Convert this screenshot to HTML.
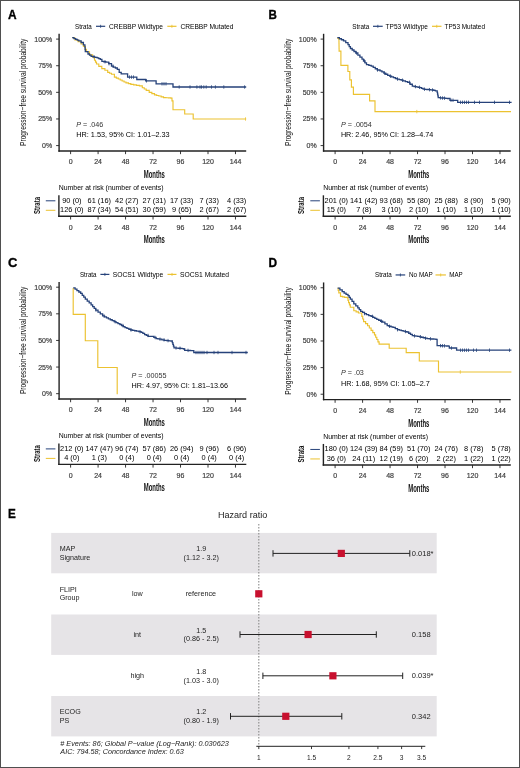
<!DOCTYPE html><html><head><meta charset="utf-8"><style>html,body{margin:0;padding:0;background:#fff;}svg{display:block;will-change:transform;}text{font-family:"Liberation Sans",sans-serif;}</style></head><body>
<svg width="520" height="768" viewBox="0 0 520 768">
<rect x="0" y="0" width="520" height="768" fill="#fff"/>
<text x="7.90" y="18.80" font-size="13.5" fill="#000" textLength="8.6" lengthAdjust="spacingAndGlyphs" font-weight="bold" stroke="#000" stroke-width="0.35">A</text>
<text x="75.00" y="28.60" font-size="6.8" textLength="16.700000000000003" lengthAdjust="spacingAndGlyphs">Strata</text>
<line x1="96.00" y1="26.30" x2="105.20" y2="26.30" stroke="#26427a" stroke-width="1.2"/>
<line x1="100.60" y1="24.80" x2="100.60" y2="27.80" stroke="#26427a" stroke-width="0.8"/>
<text x="109.00" y="28.60" font-size="6.8" textLength="54" lengthAdjust="spacingAndGlyphs">CREBBP Wildtype</text>
<line x1="167.30" y1="26.30" x2="176.50" y2="26.30" stroke="#ecc230" stroke-width="1.2"/>
<line x1="171.90" y1="24.80" x2="171.90" y2="27.80" stroke="#ecc230" stroke-width="0.8"/>
<text x="180.40" y="28.60" font-size="6.8" textLength="53.1" lengthAdjust="spacingAndGlyphs">CREBBP Mutated</text>
<line x1="59.10" y1="33.80" x2="59.10" y2="151.65" stroke="#222" stroke-width="1.4"/>
<line x1="58.40" y1="150.95" x2="246.20" y2="150.95" stroke="#222" stroke-width="1.4"/>
<line x1="56.10" y1="39.10" x2="59.10" y2="39.10" stroke="#222" stroke-width="0.9"/>
<text x="52.20" y="41.60" font-size="7" text-anchor="end" fill="#3d3d3d" stroke="#3d3d3d" stroke-width="0.18">100%</text>
<line x1="56.10" y1="65.72" x2="59.10" y2="65.72" stroke="#222" stroke-width="0.9"/>
<text x="52.20" y="68.22" font-size="7" text-anchor="end" fill="#3d3d3d" stroke="#3d3d3d" stroke-width="0.18">75%</text>
<line x1="56.10" y1="92.34" x2="59.10" y2="92.34" stroke="#222" stroke-width="0.9"/>
<text x="52.20" y="94.84" font-size="7" text-anchor="end" fill="#3d3d3d" stroke="#3d3d3d" stroke-width="0.18">50%</text>
<line x1="56.10" y1="118.96" x2="59.10" y2="118.96" stroke="#222" stroke-width="0.9"/>
<text x="52.20" y="121.46" font-size="7" text-anchor="end" fill="#3d3d3d" stroke="#3d3d3d" stroke-width="0.18">25%</text>
<line x1="56.10" y1="145.58" x2="59.10" y2="145.58" stroke="#222" stroke-width="0.9"/>
<text x="52.20" y="148.08" font-size="7" text-anchor="end" fill="#3d3d3d" stroke="#3d3d3d" stroke-width="0.18">0%</text>
<line x1="70.60" y1="150.95" x2="70.60" y2="154.15" stroke="#222" stroke-width="0.9"/>
<text x="70.60" y="164.20" font-size="7" text-anchor="middle" fill="#3d3d3d" stroke="#3d3d3d" stroke-width="0.18">0</text>
<line x1="98.08" y1="150.95" x2="98.08" y2="154.15" stroke="#222" stroke-width="0.9"/>
<text x="98.08" y="164.20" font-size="7" text-anchor="middle" fill="#3d3d3d" stroke="#3d3d3d" stroke-width="0.18">24</text>
<line x1="125.56" y1="150.95" x2="125.56" y2="154.15" stroke="#222" stroke-width="0.9"/>
<text x="125.56" y="164.20" font-size="7" text-anchor="middle" fill="#3d3d3d" stroke="#3d3d3d" stroke-width="0.18">48</text>
<line x1="153.04" y1="150.95" x2="153.04" y2="154.15" stroke="#222" stroke-width="0.9"/>
<text x="153.04" y="164.20" font-size="7" text-anchor="middle" fill="#3d3d3d" stroke="#3d3d3d" stroke-width="0.18">72</text>
<line x1="180.52" y1="150.95" x2="180.52" y2="154.15" stroke="#222" stroke-width="0.9"/>
<text x="180.52" y="164.20" font-size="7" text-anchor="middle" fill="#3d3d3d" stroke="#3d3d3d" stroke-width="0.18">96</text>
<line x1="208.00" y1="150.95" x2="208.00" y2="154.15" stroke="#222" stroke-width="0.9"/>
<text x="208.00" y="164.20" font-size="7" text-anchor="middle" fill="#3d3d3d" stroke="#3d3d3d" stroke-width="0.18">120</text>
<line x1="235.48" y1="150.95" x2="235.48" y2="154.15" stroke="#222" stroke-width="0.9"/>
<text x="235.48" y="164.20" font-size="7" text-anchor="middle" fill="#3d3d3d" stroke="#3d3d3d" stroke-width="0.18">144</text>
<text x="154.30" y="178.20" font-size="10.3" text-anchor="middle" fill="#111" textLength="21.2" lengthAdjust="spacingAndGlyphs" font-weight="bold">Months</text>
<text x="0" y="0" font-size="9.2" text-anchor="middle" fill="#111" textLength="107.4" lengthAdjust="spacingAndGlyphs" transform="translate(26.40,92.30) rotate(-90)">Progression−free survival probability</text>
<g fill="none" stroke-linejoin="miter">
<path d="M72.20,37.70L74.90,37.70L74.90,39.80L78.00,39.80L78.00,41.70L81.10,41.70L81.10,44.00L83.40,44.00L83.40,46.30L85.30,46.30L85.30,49.40L86.50,49.40L86.50,51.70L89.50,51.70L89.50,54.80L92.60,54.80L92.60,57.10L94.50,57.10L94.50,60.20L95.50,60.20L95.50,62.10L96.50,62.10L96.50,64.00L98.80,64.00L98.80,66.30L101.80,66.30L101.80,68.60L104.90,68.60L104.90,70.20L107.70,70.20L107.70,72.30L109.60,72.30L109.60,73.25L111.50,73.25L111.50,74.20L114.40,74.20L114.40,77.10L116.35,77.10L116.35,78.05L118.30,78.05L118.30,79.00L120.20,79.00L120.20,80.00L122.10,80.00L122.10,81.00L124.05,81.00L124.05,81.95L126.00,81.95L126.00,82.90L128.40,82.90L128.40,83.60L130.80,83.60L130.80,84.30L133.65,84.30L133.65,84.80L136.50,84.80L136.50,85.30L139.40,85.30L139.40,85.80L142.30,85.80L142.30,87.70L144.25,87.70L144.25,89.00L146.20,89.00L146.20,90.30L149.20,90.30L149.20,92.30L151.85,92.30L151.85,93.60L154.50,93.60L154.50,94.90L156.65,94.90L156.65,95.45L158.80,95.45L158.80,96.00L161.15,96.00L161.15,96.80L163.50,96.80L163.50,97.60L165.97,97.60L165.97,97.77L168.43,97.77L168.43,97.93L170.90,97.93L170.90,98.10L172.00,98.10L172.00,100.80L173.00,100.80L173.00,103.40L173.00,103.40L173.00,109.70L184.70,109.70L184.70,109.70L184.70,109.70L184.70,114.00L193.20,114.00L193.20,114.00L193.20,114.00L193.20,119.00L246.20,119.00L246.20,119.00" stroke="#ecc230" stroke-width="1.15"/>
<path d="M72.20,37.70L73.95,37.70L73.95,38.55L75.70,38.55L75.70,39.40L77.25,39.40L77.25,40.15L78.80,40.15L78.80,40.90L81.10,40.90L81.10,42.50L83.40,42.50L83.40,44.80L84.90,44.80L84.90,47.10L85.10,47.10L85.10,49.40L85.30,49.40L85.30,51.70L88.00,51.70L88.00,54.00L89.55,54.00L89.55,55.15L91.10,55.15L91.10,56.30L92.65,56.30L92.65,56.70L94.20,56.70L94.20,57.10L95.70,57.10L95.70,57.45L97.20,57.45L97.20,57.80L98.75,57.80L98.75,58.60L100.30,58.60L100.30,59.40L101.90,59.40L101.90,61.30L103.85,61.30L103.85,61.75L105.80,61.75L105.80,62.20L108.70,62.20L108.70,63.70L111.50,63.70L111.50,66.10L113.45,66.10L113.45,67.05L115.40,67.05L115.40,68.00L117.30,68.00L117.30,69.40L119.20,69.40L119.20,72.30L121.20,72.30L121.20,73.80L127.60,73.80L127.60,73.80L127.60,73.80L127.60,77.10L136.80,77.10L136.80,77.10L136.80,77.10L136.80,79.50L145.70,79.50L145.70,79.50L145.70,79.50L145.70,80.80L156.10,80.80L156.10,80.80L156.10,80.80L156.10,83.80L173.00,83.80L173.00,83.80L173.00,83.80L173.00,87.00L246.20,87.00L246.20,87.00" stroke="#26427a" stroke-width="1.3"/>
</g>
<line x1="94.00" y1="55.00" x2="94.00" y2="58.40" stroke="#26427a" stroke-width="0.8"/>
<line x1="105.00" y1="60.05" x2="105.00" y2="63.45" stroke="#26427a" stroke-width="0.8"/>
<line x1="109.00" y1="62.00" x2="109.00" y2="65.40" stroke="#26427a" stroke-width="0.8"/>
<line x1="113.00" y1="64.40" x2="113.00" y2="67.80" stroke="#26427a" stroke-width="0.8"/>
<line x1="129.50" y1="75.40" x2="129.50" y2="78.80" stroke="#26427a" stroke-width="0.8"/>
<line x1="131.50" y1="75.40" x2="131.50" y2="78.80" stroke="#26427a" stroke-width="0.8"/>
<line x1="133.50" y1="75.40" x2="133.50" y2="78.80" stroke="#26427a" stroke-width="0.8"/>
<line x1="146.50" y1="79.10" x2="146.50" y2="82.50" stroke="#26427a" stroke-width="0.8"/>
<line x1="162.00" y1="82.10" x2="162.00" y2="85.50" stroke="#26427a" stroke-width="0.8"/>
<line x1="164.00" y1="82.10" x2="164.00" y2="85.50" stroke="#26427a" stroke-width="0.8"/>
<line x1="166.00" y1="82.10" x2="166.00" y2="85.50" stroke="#26427a" stroke-width="0.8"/>
<line x1="179.20" y1="85.30" x2="179.20" y2="88.70" stroke="#26427a" stroke-width="0.8"/>
<line x1="190.00" y1="85.30" x2="190.00" y2="88.70" stroke="#26427a" stroke-width="0.8"/>
<line x1="196.90" y1="85.30" x2="196.90" y2="88.70" stroke="#26427a" stroke-width="0.8"/>
<line x1="200.00" y1="85.30" x2="200.00" y2="88.70" stroke="#26427a" stroke-width="0.8"/>
<line x1="201.50" y1="85.30" x2="201.50" y2="88.70" stroke="#26427a" stroke-width="0.8"/>
<line x1="203.80" y1="85.30" x2="203.80" y2="88.70" stroke="#26427a" stroke-width="0.8"/>
<line x1="206.20" y1="85.30" x2="206.20" y2="88.70" stroke="#26427a" stroke-width="0.8"/>
<line x1="211.50" y1="85.30" x2="211.50" y2="88.70" stroke="#26427a" stroke-width="0.8"/>
<line x1="215.40" y1="85.30" x2="215.40" y2="88.70" stroke="#26427a" stroke-width="0.8"/>
<line x1="223.80" y1="85.30" x2="223.80" y2="88.70" stroke="#26427a" stroke-width="0.8"/>
<line x1="244.60" y1="85.30" x2="244.60" y2="88.70" stroke="#26427a" stroke-width="0.8"/>
<line x1="245.50" y1="117.30" x2="245.50" y2="120.70" stroke="#ecc230" stroke-width="0.8"/>
<text x="76.20" y="127.00" font-size="7.2" fill="#333"><tspan font-style="italic">P</tspan> = .046</text>
<text x="76.20" y="136.70" font-size="7.2" textLength="93.5" lengthAdjust="spacingAndGlyphs">HR: 1.53, 95% CI: 1.01–2.33</text>
<text x="58.80" y="190.00" font-size="7" textLength="104.7" lengthAdjust="spacingAndGlyphs">Number at risk (number of events)</text>
<line x1="58.90" y1="195.30" x2="58.90" y2="217.00" stroke="#222" stroke-width="1.4"/>
<line x1="58.20" y1="216.30" x2="246.30" y2="216.30" stroke="#222" stroke-width="1.4"/>
<line x1="70.60" y1="216.30" x2="70.60" y2="219.50" stroke="#222" stroke-width="0.9"/>
<text x="70.60" y="229.70" font-size="7" text-anchor="middle" fill="#3d3d3d" stroke="#3d3d3d" stroke-width="0.18">0</text>
<text x="71.80" y="202.70" font-size="7.4" text-anchor="middle">90 (0)</text>
<text x="71.80" y="212.30" font-size="7.4" text-anchor="middle">126 (0)</text>
<line x1="98.08" y1="216.30" x2="98.08" y2="219.50" stroke="#222" stroke-width="0.9"/>
<text x="98.08" y="229.70" font-size="7" text-anchor="middle" fill="#3d3d3d" stroke="#3d3d3d" stroke-width="0.18">24</text>
<text x="99.28" y="202.70" font-size="7.4" text-anchor="middle">61 (16)</text>
<text x="99.28" y="212.30" font-size="7.4" text-anchor="middle">87 (34)</text>
<line x1="125.56" y1="216.30" x2="125.56" y2="219.50" stroke="#222" stroke-width="0.9"/>
<text x="125.56" y="229.70" font-size="7" text-anchor="middle" fill="#3d3d3d" stroke="#3d3d3d" stroke-width="0.18">48</text>
<text x="126.76" y="202.70" font-size="7.4" text-anchor="middle">42 (27)</text>
<text x="126.76" y="212.30" font-size="7.4" text-anchor="middle">54 (51)</text>
<line x1="153.04" y1="216.30" x2="153.04" y2="219.50" stroke="#222" stroke-width="0.9"/>
<text x="153.04" y="229.70" font-size="7" text-anchor="middle" fill="#3d3d3d" stroke="#3d3d3d" stroke-width="0.18">72</text>
<text x="154.24" y="202.70" font-size="7.4" text-anchor="middle">27 (31)</text>
<text x="154.24" y="212.30" font-size="7.4" text-anchor="middle">30 (59)</text>
<line x1="180.52" y1="216.30" x2="180.52" y2="219.50" stroke="#222" stroke-width="0.9"/>
<text x="180.52" y="229.70" font-size="7" text-anchor="middle" fill="#3d3d3d" stroke="#3d3d3d" stroke-width="0.18">96</text>
<text x="181.72" y="202.70" font-size="7.4" text-anchor="middle">17 (33)</text>
<text x="181.72" y="212.30" font-size="7.4" text-anchor="middle">9 (65)</text>
<line x1="208.00" y1="216.30" x2="208.00" y2="219.50" stroke="#222" stroke-width="0.9"/>
<text x="208.00" y="229.70" font-size="7" text-anchor="middle" fill="#3d3d3d" stroke="#3d3d3d" stroke-width="0.18">120</text>
<text x="209.20" y="202.70" font-size="7.4" text-anchor="middle">7 (33)</text>
<text x="209.20" y="212.30" font-size="7.4" text-anchor="middle">2 (67)</text>
<line x1="235.48" y1="216.30" x2="235.48" y2="219.50" stroke="#222" stroke-width="0.9"/>
<text x="235.48" y="229.70" font-size="7" text-anchor="middle" fill="#3d3d3d" stroke="#3d3d3d" stroke-width="0.18">144</text>
<text x="236.68" y="202.70" font-size="7.4" text-anchor="middle">4 (33)</text>
<text x="236.68" y="212.30" font-size="7.4" text-anchor="middle">2 (67)</text>
<text x="154.30" y="243.10" font-size="10.3" text-anchor="middle" fill="#111" textLength="21.2" lengthAdjust="spacingAndGlyphs" font-weight="bold">Months</text>
<text x="0" y="0" font-size="9" font-weight="bold" text-anchor="middle" fill="#111" textLength="16.9" lengthAdjust="spacingAndGlyphs" transform="translate(39.60,205.50) rotate(-90)">Strata</text>
<line x1="45.80" y1="200.80" x2="55.40" y2="200.80" stroke="#26427a" stroke-width="1.0"/>
<line x1="45.80" y1="210.30" x2="55.40" y2="210.30" stroke="#ecc230" stroke-width="1.0"/>
<text x="268.50" y="18.80" font-size="13.5" fill="#000" textLength="8.4" lengthAdjust="spacingAndGlyphs" font-weight="bold" stroke="#000" stroke-width="0.35">B</text>
<text x="352.30" y="28.60" font-size="6.8" textLength="16.899999999999977" lengthAdjust="spacingAndGlyphs">Strata</text>
<line x1="373.00" y1="26.30" x2="382.70" y2="26.30" stroke="#26427a" stroke-width="1.2"/>
<line x1="377.85" y1="24.80" x2="377.85" y2="27.80" stroke="#26427a" stroke-width="0.8"/>
<text x="385.60" y="28.60" font-size="6.8" textLength="42.3" lengthAdjust="spacingAndGlyphs">TP53 Wildtype</text>
<line x1="432.00" y1="26.30" x2="441.50" y2="26.30" stroke="#ecc230" stroke-width="1.2"/>
<line x1="436.75" y1="24.80" x2="436.75" y2="27.80" stroke="#ecc230" stroke-width="0.8"/>
<text x="444.60" y="28.60" font-size="6.8" textLength="40.4" lengthAdjust="spacingAndGlyphs">TP53 Mutated</text>
<line x1="323.60" y1="33.80" x2="323.60" y2="151.65" stroke="#222" stroke-width="1.4"/>
<line x1="322.90" y1="150.95" x2="510.70" y2="150.95" stroke="#222" stroke-width="1.4"/>
<line x1="320.60" y1="39.10" x2="323.60" y2="39.10" stroke="#222" stroke-width="0.9"/>
<text x="316.70" y="41.60" font-size="7" text-anchor="end" fill="#3d3d3d" stroke="#3d3d3d" stroke-width="0.18">100%</text>
<line x1="320.60" y1="65.72" x2="323.60" y2="65.72" stroke="#222" stroke-width="0.9"/>
<text x="316.70" y="68.22" font-size="7" text-anchor="end" fill="#3d3d3d" stroke="#3d3d3d" stroke-width="0.18">75%</text>
<line x1="320.60" y1="92.34" x2="323.60" y2="92.34" stroke="#222" stroke-width="0.9"/>
<text x="316.70" y="94.84" font-size="7" text-anchor="end" fill="#3d3d3d" stroke="#3d3d3d" stroke-width="0.18">50%</text>
<line x1="320.60" y1="118.96" x2="323.60" y2="118.96" stroke="#222" stroke-width="0.9"/>
<text x="316.70" y="121.46" font-size="7" text-anchor="end" fill="#3d3d3d" stroke="#3d3d3d" stroke-width="0.18">25%</text>
<line x1="320.60" y1="145.58" x2="323.60" y2="145.58" stroke="#222" stroke-width="0.9"/>
<text x="316.70" y="148.08" font-size="7" text-anchor="end" fill="#3d3d3d" stroke="#3d3d3d" stroke-width="0.18">0%</text>
<line x1="335.10" y1="150.95" x2="335.10" y2="154.15" stroke="#222" stroke-width="0.9"/>
<text x="335.10" y="164.20" font-size="7" text-anchor="middle" fill="#3d3d3d" stroke="#3d3d3d" stroke-width="0.18">0</text>
<line x1="362.58" y1="150.95" x2="362.58" y2="154.15" stroke="#222" stroke-width="0.9"/>
<text x="362.58" y="164.20" font-size="7" text-anchor="middle" fill="#3d3d3d" stroke="#3d3d3d" stroke-width="0.18">24</text>
<line x1="390.06" y1="150.95" x2="390.06" y2="154.15" stroke="#222" stroke-width="0.9"/>
<text x="390.06" y="164.20" font-size="7" text-anchor="middle" fill="#3d3d3d" stroke="#3d3d3d" stroke-width="0.18">48</text>
<line x1="417.54" y1="150.95" x2="417.54" y2="154.15" stroke="#222" stroke-width="0.9"/>
<text x="417.54" y="164.20" font-size="7" text-anchor="middle" fill="#3d3d3d" stroke="#3d3d3d" stroke-width="0.18">72</text>
<line x1="445.02" y1="150.95" x2="445.02" y2="154.15" stroke="#222" stroke-width="0.9"/>
<text x="445.02" y="164.20" font-size="7" text-anchor="middle" fill="#3d3d3d" stroke="#3d3d3d" stroke-width="0.18">96</text>
<line x1="472.50" y1="150.95" x2="472.50" y2="154.15" stroke="#222" stroke-width="0.9"/>
<text x="472.50" y="164.20" font-size="7" text-anchor="middle" fill="#3d3d3d" stroke="#3d3d3d" stroke-width="0.18">120</text>
<line x1="499.98" y1="150.95" x2="499.98" y2="154.15" stroke="#222" stroke-width="0.9"/>
<text x="499.98" y="164.20" font-size="7" text-anchor="middle" fill="#3d3d3d" stroke="#3d3d3d" stroke-width="0.18">144</text>
<text x="418.80" y="178.20" font-size="10.3" text-anchor="middle" fill="#111" textLength="21.2" lengthAdjust="spacingAndGlyphs" font-weight="bold">Months</text>
<text x="0" y="0" font-size="9.2" text-anchor="middle" fill="#111" textLength="107.4" lengthAdjust="spacingAndGlyphs" transform="translate(290.90,92.30) rotate(-90)">Progression−free survival probability</text>
<g fill="none" stroke-linejoin="miter">
<path d="M337.30,38.30L338.90,38.30L338.90,38.30L338.94,38.30L338.94,40.86L338.98,40.86L338.98,43.42L339.02,43.42L339.02,45.98L339.06,45.98L339.06,48.54L339.10,48.54L339.10,51.10L340.90,51.10L340.90,51.10L340.90,51.10L340.90,65.40L347.90,65.40L347.90,65.40L347.90,65.40L347.90,71.50L349.80,71.50L349.80,71.50L349.80,71.50L349.80,79.80L351.40,79.80L351.40,79.80L351.40,79.80L351.40,87.10L353.40,87.10L353.40,87.10L353.40,87.10L353.40,94.40L369.60,94.40L369.60,94.40L369.60,94.40L369.60,100.80L375.00,100.80L375.00,100.80L375.00,100.80L375.00,111.60L511.00,111.60L511.00,111.60" stroke="#ecc230" stroke-width="1.15"/>
<path d="M337.30,37.70L339.37,37.70L339.37,38.73L341.43,38.73L341.43,39.77L343.50,39.77L343.50,40.80L345.75,40.80L345.75,42.70L348.00,42.70L348.00,44.60L349.20,44.60L349.20,46.55L350.40,46.55L350.40,48.50L352.20,48.50L352.20,50.00L354.00,50.00L354.00,51.50L355.80,51.50L355.80,53.00L357.87,53.00L357.87,55.07L359.93,55.07L359.93,57.13L362.00,57.13L362.00,59.20L363.50,59.20L363.50,61.00L365.00,61.00L365.00,62.80L366.50,62.80L366.50,64.60L368.85,64.60L368.85,65.40L371.20,65.40L371.20,66.20L373.23,66.20L373.23,67.47L375.27,67.47L375.27,68.73L377.30,68.73L377.30,70.00L380.00,70.00L380.00,70.80L381.93,70.80L381.93,71.95L383.85,71.95L383.85,73.10L385.77,73.10L385.77,74.25L387.70,74.25L387.70,75.40L389.62,75.40L389.62,76.18L391.55,76.18L391.55,76.95L393.47,76.95L393.47,77.72L395.40,77.72L395.40,78.50L397.32,78.50L397.32,79.08L399.25,79.08L399.25,79.65L401.18,79.65L401.18,80.22L403.10,80.22L403.10,80.80L405.40,80.80L405.40,81.55L407.70,81.55L407.70,82.30L410.00,82.30L410.00,84.25L412.30,84.25L412.30,86.20L414.23,86.20L414.23,86.58L416.15,86.58L416.15,86.95L418.07,86.95L418.07,87.33L420.00,87.33L420.00,87.70L421.55,87.70L421.55,88.45L423.10,88.45L423.10,89.20L424.94,89.20L424.94,89.36L426.78,89.36L426.78,89.52L428.62,89.52L428.62,89.68L430.46,89.68L430.46,89.84L432.30,89.84L432.30,90.00L433.85,90.00L433.85,90.40L435.40,90.40L435.40,90.80L437.20,90.80L437.20,92.30L437.53,92.30L437.53,94.10L437.87,94.10L437.87,95.90L438.20,95.90L438.20,97.70L440.10,97.70L440.10,97.86L442.00,97.86L442.00,98.02L443.90,98.02L443.90,98.18L445.80,98.18L445.80,98.34L447.70,98.34L447.70,98.50L450.00,98.50L450.00,100.30L455.40,100.30L455.40,100.30L457.70,100.30L457.70,102.30L511.60,102.30L511.60,102.30" stroke="#26427a" stroke-width="1.3"/>
</g>
<line x1="356.50" y1="51.30" x2="356.50" y2="54.70" stroke="#26427a" stroke-width="0.8"/>
<line x1="364.50" y1="59.30" x2="364.50" y2="62.70" stroke="#26427a" stroke-width="0.8"/>
<line x1="377.50" y1="68.30" x2="377.50" y2="71.70" stroke="#26427a" stroke-width="0.8"/>
<line x1="384.50" y1="71.40" x2="384.50" y2="74.80" stroke="#26427a" stroke-width="0.8"/>
<line x1="390.50" y1="74.48" x2="390.50" y2="77.88" stroke="#26427a" stroke-width="0.8"/>
<line x1="397.50" y1="77.38" x2="397.50" y2="80.78" stroke="#26427a" stroke-width="0.8"/>
<line x1="402.50" y1="78.52" x2="402.50" y2="81.92" stroke="#26427a" stroke-width="0.8"/>
<line x1="409.50" y1="80.60" x2="409.50" y2="84.00" stroke="#26427a" stroke-width="0.8"/>
<line x1="415.50" y1="84.88" x2="415.50" y2="88.28" stroke="#26427a" stroke-width="0.8"/>
<line x1="419.50" y1="85.62" x2="419.50" y2="89.03" stroke="#26427a" stroke-width="0.8"/>
<line x1="424.50" y1="87.50" x2="424.50" y2="90.90" stroke="#26427a" stroke-width="0.8"/>
<line x1="429.50" y1="87.98" x2="429.50" y2="91.38" stroke="#26427a" stroke-width="0.8"/>
<line x1="432.50" y1="88.30" x2="432.50" y2="91.70" stroke="#26427a" stroke-width="0.8"/>
<line x1="440.50" y1="96.16" x2="440.50" y2="99.56" stroke="#26427a" stroke-width="0.8"/>
<line x1="442.50" y1="96.32" x2="442.50" y2="99.72" stroke="#26427a" stroke-width="0.8"/>
<line x1="444.50" y1="96.48" x2="444.50" y2="99.88" stroke="#26427a" stroke-width="0.8"/>
<line x1="451.00" y1="98.60" x2="451.00" y2="102.00" stroke="#26427a" stroke-width="0.8"/>
<line x1="453.00" y1="98.60" x2="453.00" y2="102.00" stroke="#26427a" stroke-width="0.8"/>
<line x1="460.50" y1="100.60" x2="460.50" y2="104.00" stroke="#26427a" stroke-width="0.8"/>
<line x1="462.50" y1="100.60" x2="462.50" y2="104.00" stroke="#26427a" stroke-width="0.8"/>
<line x1="464.50" y1="100.60" x2="464.50" y2="104.00" stroke="#26427a" stroke-width="0.8"/>
<line x1="466.50" y1="100.60" x2="466.50" y2="104.00" stroke="#26427a" stroke-width="0.8"/>
<line x1="468.50" y1="100.60" x2="468.50" y2="104.00" stroke="#26427a" stroke-width="0.8"/>
<line x1="474.50" y1="100.60" x2="474.50" y2="104.00" stroke="#26427a" stroke-width="0.8"/>
<line x1="479.50" y1="100.60" x2="479.50" y2="104.00" stroke="#26427a" stroke-width="0.8"/>
<line x1="494.50" y1="100.60" x2="494.50" y2="104.00" stroke="#26427a" stroke-width="0.8"/>
<line x1="509.50" y1="100.60" x2="509.50" y2="104.00" stroke="#26427a" stroke-width="0.8"/>
<line x1="416.80" y1="109.90" x2="416.80" y2="113.30" stroke="#ecc230" stroke-width="0.8"/>
<text x="340.90" y="127.00" font-size="7.2" fill="#333"><tspan font-style="italic">P</tspan> = .0054</text>
<text x="340.90" y="136.70" font-size="7.2" textLength="92.3" lengthAdjust="spacingAndGlyphs">HR: 2.46, 95% CI: 1.28–4.74</text>
<text x="323.30" y="190.00" font-size="7" textLength="104.7" lengthAdjust="spacingAndGlyphs">Number at risk (number of events)</text>
<line x1="323.40" y1="195.30" x2="323.40" y2="217.00" stroke="#222" stroke-width="1.4"/>
<line x1="322.70" y1="216.30" x2="510.80" y2="216.30" stroke="#222" stroke-width="1.4"/>
<line x1="335.10" y1="216.30" x2="335.10" y2="219.50" stroke="#222" stroke-width="0.9"/>
<text x="335.10" y="229.70" font-size="7" text-anchor="middle" fill="#3d3d3d" stroke="#3d3d3d" stroke-width="0.18">0</text>
<text x="336.30" y="202.70" font-size="7.4" text-anchor="middle">201 (0)</text>
<text x="336.30" y="212.30" font-size="7.4" text-anchor="middle">15 (0)</text>
<line x1="362.58" y1="216.30" x2="362.58" y2="219.50" stroke="#222" stroke-width="0.9"/>
<text x="362.58" y="229.70" font-size="7" text-anchor="middle" fill="#3d3d3d" stroke="#3d3d3d" stroke-width="0.18">24</text>
<text x="363.78" y="202.70" font-size="7.4" text-anchor="middle">141 (42)</text>
<text x="363.78" y="212.30" font-size="7.4" text-anchor="middle">7 (8)</text>
<line x1="390.06" y1="216.30" x2="390.06" y2="219.50" stroke="#222" stroke-width="0.9"/>
<text x="390.06" y="229.70" font-size="7" text-anchor="middle" fill="#3d3d3d" stroke="#3d3d3d" stroke-width="0.18">48</text>
<text x="391.26" y="202.70" font-size="7.4" text-anchor="middle">93 (68)</text>
<text x="391.26" y="212.30" font-size="7.4" text-anchor="middle">3 (10)</text>
<line x1="417.54" y1="216.30" x2="417.54" y2="219.50" stroke="#222" stroke-width="0.9"/>
<text x="417.54" y="229.70" font-size="7" text-anchor="middle" fill="#3d3d3d" stroke="#3d3d3d" stroke-width="0.18">72</text>
<text x="418.74" y="202.70" font-size="7.4" text-anchor="middle">55 (80)</text>
<text x="418.74" y="212.30" font-size="7.4" text-anchor="middle">2 (10)</text>
<line x1="445.02" y1="216.30" x2="445.02" y2="219.50" stroke="#222" stroke-width="0.9"/>
<text x="445.02" y="229.70" font-size="7" text-anchor="middle" fill="#3d3d3d" stroke="#3d3d3d" stroke-width="0.18">96</text>
<text x="446.22" y="202.70" font-size="7.4" text-anchor="middle">25 (88)</text>
<text x="446.22" y="212.30" font-size="7.4" text-anchor="middle">1 (10)</text>
<line x1="472.50" y1="216.30" x2="472.50" y2="219.50" stroke="#222" stroke-width="0.9"/>
<text x="472.50" y="229.70" font-size="7" text-anchor="middle" fill="#3d3d3d" stroke="#3d3d3d" stroke-width="0.18">120</text>
<text x="473.70" y="202.70" font-size="7.4" text-anchor="middle">8 (90)</text>
<text x="473.70" y="212.30" font-size="7.4" text-anchor="middle">1 (10)</text>
<line x1="499.98" y1="216.30" x2="499.98" y2="219.50" stroke="#222" stroke-width="0.9"/>
<text x="499.98" y="229.70" font-size="7" text-anchor="middle" fill="#3d3d3d" stroke="#3d3d3d" stroke-width="0.18">144</text>
<text x="501.18" y="202.70" font-size="7.4" text-anchor="middle">5 (90)</text>
<text x="501.18" y="212.30" font-size="7.4" text-anchor="middle">1 (10)</text>
<text x="418.80" y="243.10" font-size="10.3" text-anchor="middle" fill="#111" textLength="21.2" lengthAdjust="spacingAndGlyphs" font-weight="bold">Months</text>
<text x="0" y="0" font-size="9" font-weight="bold" text-anchor="middle" fill="#111" textLength="16.9" lengthAdjust="spacingAndGlyphs" transform="translate(304.10,205.50) rotate(-90)">Strata</text>
<line x1="310.30" y1="200.80" x2="319.90" y2="200.80" stroke="#26427a" stroke-width="1.0"/>
<line x1="310.30" y1="210.30" x2="319.90" y2="210.30" stroke="#ecc230" stroke-width="1.0"/>
<text x="7.90" y="267.10" font-size="13.5" fill="#000" textLength="9.4" lengthAdjust="spacingAndGlyphs" font-weight="bold" stroke="#000" stroke-width="0.35">C</text>
<text x="80.00" y="276.70" font-size="6.8" textLength="16.5" lengthAdjust="spacingAndGlyphs">Strata</text>
<line x1="100.40" y1="274.40" x2="109.40" y2="274.40" stroke="#26427a" stroke-width="1.2"/>
<line x1="104.90" y1="272.90" x2="104.90" y2="275.90" stroke="#26427a" stroke-width="0.8"/>
<text x="112.70" y="276.70" font-size="6.8" textLength="50.6" lengthAdjust="spacingAndGlyphs">SOCS1 Wildtype</text>
<line x1="167.50" y1="274.40" x2="176.50" y2="274.40" stroke="#ecc230" stroke-width="1.2"/>
<line x1="172.00" y1="272.90" x2="172.00" y2="275.90" stroke="#ecc230" stroke-width="0.8"/>
<text x="180.00" y="276.70" font-size="6.8" textLength="49" lengthAdjust="spacingAndGlyphs">SOCS1 Mutated</text>
<line x1="59.10" y1="281.90" x2="59.10" y2="399.75" stroke="#222" stroke-width="1.4"/>
<line x1="58.40" y1="399.05" x2="246.20" y2="399.05" stroke="#222" stroke-width="1.4"/>
<line x1="56.10" y1="287.20" x2="59.10" y2="287.20" stroke="#222" stroke-width="0.9"/>
<text x="52.20" y="289.70" font-size="7" text-anchor="end" fill="#3d3d3d" stroke="#3d3d3d" stroke-width="0.18">100%</text>
<line x1="56.10" y1="313.82" x2="59.10" y2="313.82" stroke="#222" stroke-width="0.9"/>
<text x="52.20" y="316.32" font-size="7" text-anchor="end" fill="#3d3d3d" stroke="#3d3d3d" stroke-width="0.18">75%</text>
<line x1="56.10" y1="340.44" x2="59.10" y2="340.44" stroke="#222" stroke-width="0.9"/>
<text x="52.20" y="342.94" font-size="7" text-anchor="end" fill="#3d3d3d" stroke="#3d3d3d" stroke-width="0.18">50%</text>
<line x1="56.10" y1="367.06" x2="59.10" y2="367.06" stroke="#222" stroke-width="0.9"/>
<text x="52.20" y="369.56" font-size="7" text-anchor="end" fill="#3d3d3d" stroke="#3d3d3d" stroke-width="0.18">25%</text>
<line x1="56.10" y1="393.68" x2="59.10" y2="393.68" stroke="#222" stroke-width="0.9"/>
<text x="52.20" y="396.18" font-size="7" text-anchor="end" fill="#3d3d3d" stroke="#3d3d3d" stroke-width="0.18">0%</text>
<line x1="70.60" y1="399.05" x2="70.60" y2="402.25" stroke="#222" stroke-width="0.9"/>
<text x="70.60" y="412.30" font-size="7" text-anchor="middle" fill="#3d3d3d" stroke="#3d3d3d" stroke-width="0.18">0</text>
<line x1="98.08" y1="399.05" x2="98.08" y2="402.25" stroke="#222" stroke-width="0.9"/>
<text x="98.08" y="412.30" font-size="7" text-anchor="middle" fill="#3d3d3d" stroke="#3d3d3d" stroke-width="0.18">24</text>
<line x1="125.56" y1="399.05" x2="125.56" y2="402.25" stroke="#222" stroke-width="0.9"/>
<text x="125.56" y="412.30" font-size="7" text-anchor="middle" fill="#3d3d3d" stroke="#3d3d3d" stroke-width="0.18">48</text>
<line x1="153.04" y1="399.05" x2="153.04" y2="402.25" stroke="#222" stroke-width="0.9"/>
<text x="153.04" y="412.30" font-size="7" text-anchor="middle" fill="#3d3d3d" stroke="#3d3d3d" stroke-width="0.18">72</text>
<line x1="180.52" y1="399.05" x2="180.52" y2="402.25" stroke="#222" stroke-width="0.9"/>
<text x="180.52" y="412.30" font-size="7" text-anchor="middle" fill="#3d3d3d" stroke="#3d3d3d" stroke-width="0.18">96</text>
<line x1="208.00" y1="399.05" x2="208.00" y2="402.25" stroke="#222" stroke-width="0.9"/>
<text x="208.00" y="412.30" font-size="7" text-anchor="middle" fill="#3d3d3d" stroke="#3d3d3d" stroke-width="0.18">120</text>
<line x1="235.48" y1="399.05" x2="235.48" y2="402.25" stroke="#222" stroke-width="0.9"/>
<text x="235.48" y="412.30" font-size="7" text-anchor="middle" fill="#3d3d3d" stroke="#3d3d3d" stroke-width="0.18">144</text>
<text x="154.30" y="426.30" font-size="10.3" text-anchor="middle" fill="#111" textLength="21.2" lengthAdjust="spacingAndGlyphs" font-weight="bold">Months</text>
<text x="0" y="0" font-size="9.2" text-anchor="middle" fill="#111" textLength="107.4" lengthAdjust="spacingAndGlyphs" transform="translate(26.40,340.40) rotate(-90)">Progression−free survival probability</text>
<g fill="none" stroke-linejoin="miter">
<path d="M73.20,287.90L73.20,287.90L73.20,314.40L85.30,314.40L85.30,314.40L85.30,314.40L85.30,340.70L97.80,340.70L97.80,340.70L97.80,340.70L97.80,367.50L117.20,367.50L117.20,367.50L117.20,367.50L117.20,394.30" stroke="#ecc230" stroke-width="1.15"/>
<path d="M73.20,287.80L75.08,287.80L75.08,289.20L76.95,289.20L76.95,290.60L78.83,290.60L78.83,292.00L80.70,292.00L80.70,293.40L82.23,293.40L82.23,295.30L83.77,295.30L83.77,297.20L85.30,297.20L85.30,299.10L87.23,299.10L87.23,301.03L89.17,301.03L89.17,302.97L91.10,302.97L91.10,304.90L92.63,304.90L92.63,306.63L94.17,306.63L94.17,308.37L95.70,308.37L95.70,310.10L98.00,310.10L98.00,312.03L100.30,312.03L100.30,313.97L102.60,313.97L102.60,315.90L104.53,315.90L104.53,316.87L106.47,316.87L106.47,317.83L108.40,317.83L108.40,318.80L110.30,318.80L110.30,319.73L112.20,319.73L112.20,320.67L114.10,320.67L114.10,321.60L116.03,321.60L116.03,322.57L117.97,322.57L117.97,323.53L119.90,323.53L119.90,324.50L121.60,324.50L121.60,325.57L123.30,325.57L123.30,326.63L125.00,326.63L125.00,327.70L126.93,327.70L126.93,328.47L128.87,328.47L128.87,329.23L130.80,329.23L130.80,330.00L132.70,330.00L132.70,330.37L134.60,330.37L134.60,330.73L136.50,330.73L136.50,331.10L138.80,331.10L138.80,331.70L141.10,331.70L141.10,332.30L142.85,332.30L142.85,333.45L144.60,333.45L144.60,334.60L146.35,334.60L146.35,335.45L148.10,335.45L148.10,336.30L151.50,336.30L151.50,336.30L153.80,336.30L153.80,337.45L156.10,337.45L156.10,338.60L157.85,338.60L157.85,338.90L159.60,338.90L159.60,339.20L161.90,339.20L161.90,339.80L164.20,339.80L164.20,340.40L166.50,340.40L166.50,340.60L168.80,340.60L168.80,340.80L171.10,340.80L171.10,341.00L172.30,341.00L172.30,342.70L172.87,342.70L172.87,344.43L173.43,344.43L173.43,346.17L174.00,346.17L174.00,347.90L176.13,347.90L176.13,348.07L178.27,348.07L178.27,348.23L180.40,348.23L180.40,348.40L182.10,348.40L182.10,348.70L183.80,348.70L183.80,349.00L184.70,349.00L184.70,349.00L184.70,349.00L184.70,350.30L186.65,350.30L186.65,350.40L188.60,350.40L188.60,350.50L190.55,350.50L190.55,350.60L192.50,350.60L192.50,350.70L193.80,350.70L193.80,350.70L193.80,350.70L193.80,352.50L247.80,352.50L247.80,352.50" stroke="#26427a" stroke-width="1.3"/>
</g>
<line x1="96.00" y1="308.40" x2="96.00" y2="311.80" stroke="#26427a" stroke-width="0.8"/>
<line x1="104.00" y1="314.20" x2="104.00" y2="317.60" stroke="#26427a" stroke-width="0.8"/>
<line x1="115.00" y1="319.90" x2="115.00" y2="323.30" stroke="#26427a" stroke-width="0.8"/>
<line x1="123.00" y1="323.87" x2="123.00" y2="327.27" stroke="#26427a" stroke-width="0.8"/>
<line x1="131.00" y1="328.30" x2="131.00" y2="331.70" stroke="#26427a" stroke-width="0.8"/>
<line x1="140.00" y1="330.00" x2="140.00" y2="333.40" stroke="#26427a" stroke-width="0.8"/>
<line x1="148.00" y1="333.75" x2="148.00" y2="337.15" stroke="#26427a" stroke-width="0.8"/>
<line x1="155.00" y1="335.75" x2="155.00" y2="339.15" stroke="#26427a" stroke-width="0.8"/>
<line x1="160.00" y1="337.50" x2="160.00" y2="340.90" stroke="#26427a" stroke-width="0.8"/>
<line x1="164.00" y1="338.10" x2="164.00" y2="341.50" stroke="#26427a" stroke-width="0.8"/>
<line x1="168.00" y1="338.90" x2="168.00" y2="342.30" stroke="#26427a" stroke-width="0.8"/>
<line x1="176.00" y1="346.20" x2="176.00" y2="349.60" stroke="#26427a" stroke-width="0.8"/>
<line x1="180.00" y1="346.53" x2="180.00" y2="349.93" stroke="#26427a" stroke-width="0.8"/>
<line x1="188.00" y1="348.70" x2="188.00" y2="352.10" stroke="#26427a" stroke-width="0.8"/>
<line x1="196.00" y1="350.80" x2="196.00" y2="354.20" stroke="#26427a" stroke-width="0.8"/>
<line x1="198.00" y1="350.80" x2="198.00" y2="354.20" stroke="#26427a" stroke-width="0.8"/>
<line x1="200.00" y1="350.80" x2="200.00" y2="354.20" stroke="#26427a" stroke-width="0.8"/>
<line x1="202.00" y1="350.80" x2="202.00" y2="354.20" stroke="#26427a" stroke-width="0.8"/>
<line x1="204.00" y1="350.80" x2="204.00" y2="354.20" stroke="#26427a" stroke-width="0.8"/>
<line x1="207.00" y1="350.80" x2="207.00" y2="354.20" stroke="#26427a" stroke-width="0.8"/>
<line x1="214.00" y1="350.80" x2="214.00" y2="354.20" stroke="#26427a" stroke-width="0.8"/>
<line x1="218.00" y1="350.80" x2="218.00" y2="354.20" stroke="#26427a" stroke-width="0.8"/>
<line x1="232.00" y1="350.80" x2="232.00" y2="354.20" stroke="#26427a" stroke-width="0.8"/>
<line x1="246.00" y1="350.80" x2="246.00" y2="354.20" stroke="#26427a" stroke-width="0.8"/>
<text x="131.50" y="377.50" font-size="7.2" fill="#333"><tspan font-style="italic">P</tspan> = .00055</text>
<text x="131.50" y="387.50" font-size="7.2" textLength="96.6" lengthAdjust="spacingAndGlyphs">HR: 4.97, 95% CI: 1.81–13.66</text>
<text x="58.80" y="438.10" font-size="7" textLength="104.7" lengthAdjust="spacingAndGlyphs">Number at risk (number of events)</text>
<line x1="58.90" y1="443.40" x2="58.90" y2="465.10" stroke="#222" stroke-width="1.4"/>
<line x1="58.20" y1="464.40" x2="246.30" y2="464.40" stroke="#222" stroke-width="1.4"/>
<line x1="70.60" y1="464.40" x2="70.60" y2="467.60" stroke="#222" stroke-width="0.9"/>
<text x="70.60" y="477.80" font-size="7" text-anchor="middle" fill="#3d3d3d" stroke="#3d3d3d" stroke-width="0.18">0</text>
<text x="71.80" y="450.80" font-size="7.4" text-anchor="middle">212 (0)</text>
<text x="71.80" y="460.40" font-size="7.4" text-anchor="middle">4 (0)</text>
<line x1="98.08" y1="464.40" x2="98.08" y2="467.60" stroke="#222" stroke-width="0.9"/>
<text x="98.08" y="477.80" font-size="7" text-anchor="middle" fill="#3d3d3d" stroke="#3d3d3d" stroke-width="0.18">24</text>
<text x="99.28" y="450.80" font-size="7.4" text-anchor="middle">147 (47)</text>
<text x="99.28" y="460.40" font-size="7.4" text-anchor="middle">1 (3)</text>
<line x1="125.56" y1="464.40" x2="125.56" y2="467.60" stroke="#222" stroke-width="0.9"/>
<text x="125.56" y="477.80" font-size="7" text-anchor="middle" fill="#3d3d3d" stroke="#3d3d3d" stroke-width="0.18">48</text>
<text x="126.76" y="450.80" font-size="7.4" text-anchor="middle">96 (74)</text>
<text x="126.76" y="460.40" font-size="7.4" text-anchor="middle">0 (4)</text>
<line x1="153.04" y1="464.40" x2="153.04" y2="467.60" stroke="#222" stroke-width="0.9"/>
<text x="153.04" y="477.80" font-size="7" text-anchor="middle" fill="#3d3d3d" stroke="#3d3d3d" stroke-width="0.18">72</text>
<text x="154.24" y="450.80" font-size="7.4" text-anchor="middle">57 (86)</text>
<text x="154.24" y="460.40" font-size="7.4" text-anchor="middle">0 (4)</text>
<line x1="180.52" y1="464.40" x2="180.52" y2="467.60" stroke="#222" stroke-width="0.9"/>
<text x="180.52" y="477.80" font-size="7" text-anchor="middle" fill="#3d3d3d" stroke="#3d3d3d" stroke-width="0.18">96</text>
<text x="181.72" y="450.80" font-size="7.4" text-anchor="middle">26 (94)</text>
<text x="181.72" y="460.40" font-size="7.4" text-anchor="middle">0 (4)</text>
<line x1="208.00" y1="464.40" x2="208.00" y2="467.60" stroke="#222" stroke-width="0.9"/>
<text x="208.00" y="477.80" font-size="7" text-anchor="middle" fill="#3d3d3d" stroke="#3d3d3d" stroke-width="0.18">120</text>
<text x="209.20" y="450.80" font-size="7.4" text-anchor="middle">9 (96)</text>
<text x="209.20" y="460.40" font-size="7.4" text-anchor="middle">0 (4)</text>
<line x1="235.48" y1="464.40" x2="235.48" y2="467.60" stroke="#222" stroke-width="0.9"/>
<text x="235.48" y="477.80" font-size="7" text-anchor="middle" fill="#3d3d3d" stroke="#3d3d3d" stroke-width="0.18">144</text>
<text x="236.68" y="450.80" font-size="7.4" text-anchor="middle">6 (96)</text>
<text x="236.68" y="460.40" font-size="7.4" text-anchor="middle">0 (4)</text>
<text x="154.30" y="491.20" font-size="10.3" text-anchor="middle" fill="#111" textLength="21.2" lengthAdjust="spacingAndGlyphs" font-weight="bold">Months</text>
<text x="0" y="0" font-size="9" font-weight="bold" text-anchor="middle" fill="#111" textLength="16.9" lengthAdjust="spacingAndGlyphs" transform="translate(39.60,453.60) rotate(-90)">Strata</text>
<line x1="45.80" y1="448.90" x2="55.40" y2="448.90" stroke="#26427a" stroke-width="1.0"/>
<line x1="45.80" y1="458.40" x2="55.40" y2="458.40" stroke="#ecc230" stroke-width="1.0"/>
<text x="268.60" y="266.90" font-size="13.5" fill="#000" textLength="8.6" lengthAdjust="spacingAndGlyphs" font-weight="bold" stroke="#000" stroke-width="0.35">D</text>
<text x="375.00" y="277.25" font-size="6.8" textLength="16.69999999999999" lengthAdjust="spacingAndGlyphs">Strata</text>
<line x1="395.60" y1="274.95" x2="405.20" y2="274.95" stroke="#26427a" stroke-width="1.2"/>
<line x1="400.40" y1="273.45" x2="400.40" y2="276.45" stroke="#26427a" stroke-width="0.8"/>
<text x="409.00" y="277.25" font-size="6.8" textLength="23.7" lengthAdjust="spacingAndGlyphs">No MAP</text>
<line x1="435.50" y1="274.95" x2="445.90" y2="274.95" stroke="#ecc230" stroke-width="1.2"/>
<line x1="440.70" y1="273.45" x2="440.70" y2="276.45" stroke="#ecc230" stroke-width="0.8"/>
<text x="449.20" y="277.25" font-size="6.8" textLength="13.5" lengthAdjust="spacingAndGlyphs">MAP</text>
<line x1="323.60" y1="282.45" x2="323.60" y2="400.30" stroke="#222" stroke-width="1.4"/>
<line x1="322.90" y1="399.60" x2="510.70" y2="399.60" stroke="#222" stroke-width="1.4"/>
<line x1="320.60" y1="287.75" x2="323.60" y2="287.75" stroke="#222" stroke-width="0.9"/>
<text x="316.70" y="290.25" font-size="7" text-anchor="end" fill="#3d3d3d" stroke="#3d3d3d" stroke-width="0.18">100%</text>
<line x1="320.60" y1="314.37" x2="323.60" y2="314.37" stroke="#222" stroke-width="0.9"/>
<text x="316.70" y="316.87" font-size="7" text-anchor="end" fill="#3d3d3d" stroke="#3d3d3d" stroke-width="0.18">75%</text>
<line x1="320.60" y1="340.99" x2="323.60" y2="340.99" stroke="#222" stroke-width="0.9"/>
<text x="316.70" y="343.49" font-size="7" text-anchor="end" fill="#3d3d3d" stroke="#3d3d3d" stroke-width="0.18">50%</text>
<line x1="320.60" y1="367.61" x2="323.60" y2="367.61" stroke="#222" stroke-width="0.9"/>
<text x="316.70" y="370.11" font-size="7" text-anchor="end" fill="#3d3d3d" stroke="#3d3d3d" stroke-width="0.18">25%</text>
<line x1="320.60" y1="394.23" x2="323.60" y2="394.23" stroke="#222" stroke-width="0.9"/>
<text x="316.70" y="396.73" font-size="7" text-anchor="end" fill="#3d3d3d" stroke="#3d3d3d" stroke-width="0.18">0%</text>
<line x1="335.10" y1="399.60" x2="335.10" y2="402.80" stroke="#222" stroke-width="0.9"/>
<text x="335.10" y="412.85" font-size="7" text-anchor="middle" fill="#3d3d3d" stroke="#3d3d3d" stroke-width="0.18">0</text>
<line x1="362.58" y1="399.60" x2="362.58" y2="402.80" stroke="#222" stroke-width="0.9"/>
<text x="362.58" y="412.85" font-size="7" text-anchor="middle" fill="#3d3d3d" stroke="#3d3d3d" stroke-width="0.18">24</text>
<line x1="390.06" y1="399.60" x2="390.06" y2="402.80" stroke="#222" stroke-width="0.9"/>
<text x="390.06" y="412.85" font-size="7" text-anchor="middle" fill="#3d3d3d" stroke="#3d3d3d" stroke-width="0.18">48</text>
<line x1="417.54" y1="399.60" x2="417.54" y2="402.80" stroke="#222" stroke-width="0.9"/>
<text x="417.54" y="412.85" font-size="7" text-anchor="middle" fill="#3d3d3d" stroke="#3d3d3d" stroke-width="0.18">72</text>
<line x1="445.02" y1="399.60" x2="445.02" y2="402.80" stroke="#222" stroke-width="0.9"/>
<text x="445.02" y="412.85" font-size="7" text-anchor="middle" fill="#3d3d3d" stroke="#3d3d3d" stroke-width="0.18">96</text>
<line x1="472.50" y1="399.60" x2="472.50" y2="402.80" stroke="#222" stroke-width="0.9"/>
<text x="472.50" y="412.85" font-size="7" text-anchor="middle" fill="#3d3d3d" stroke="#3d3d3d" stroke-width="0.18">120</text>
<line x1="499.98" y1="399.60" x2="499.98" y2="402.80" stroke="#222" stroke-width="0.9"/>
<text x="499.98" y="412.85" font-size="7" text-anchor="middle" fill="#3d3d3d" stroke="#3d3d3d" stroke-width="0.18">144</text>
<text x="418.80" y="426.85" font-size="10.3" text-anchor="middle" fill="#111" textLength="21.2" lengthAdjust="spacingAndGlyphs" font-weight="bold">Months</text>
<text x="0" y="0" font-size="9.2" text-anchor="middle" fill="#111" textLength="107.4" lengthAdjust="spacingAndGlyphs" transform="translate(290.90,340.95) rotate(-90)">Progression−free survival probability</text>
<g fill="none" stroke-linejoin="miter">
<path d="M337.60,288.20L338.20,288.20L338.20,290.50L338.80,290.50L338.80,292.80L340.50,292.80L340.50,296.30L342.50,296.30L342.50,296.85L344.50,296.85L344.50,297.40L347.40,297.40L347.40,298.00L348.00,298.00L348.00,300.30L348.60,300.30L348.60,302.60L349.45,302.60L349.45,304.90L350.30,304.90L350.30,307.20L353.80,307.20L353.80,310.70L356.10,310.70L356.10,311.85L358.40,311.85L358.40,313.00L361.80,313.00L361.80,316.40L362.70,316.40L362.70,319.00L363.60,319.00L363.60,321.60L365.60,321.60L365.60,323.65L367.60,323.65L367.60,325.70L369.35,325.70L369.35,328.00L371.10,328.00L371.10,330.30L372.80,330.30L372.80,332.60L374.50,332.60L374.50,334.90L375.65,334.90L375.65,337.20L376.80,337.20L376.80,339.50L377.95,339.50L377.95,341.80L379.10,341.80L379.10,344.10L389.20,344.10L389.20,344.10L389.20,344.10L389.20,348.20L406.20,348.20L406.20,348.20L406.20,348.20L406.20,352.60L419.30,352.60L419.30,352.60L419.30,352.60L419.30,361.00L438.50,361.00L438.50,361.00L438.50,361.00L438.50,372.00L511.40,372.00L511.40,372.00" stroke="#ecc230" stroke-width="1.15"/>
<path d="M337.60,288.20L339.90,288.20L339.90,289.95L342.20,289.95L342.20,291.70L344.13,291.70L344.13,293.03L346.07,293.03L346.07,294.37L348.00,294.37L348.00,295.70L349.15,295.70L349.15,297.40L350.30,297.40L350.30,299.10L352.05,299.10L352.05,301.45L353.80,301.45L353.80,303.80L355.80,303.80L355.80,305.80L357.80,305.80L357.80,307.80L359.25,307.80L359.25,309.55L360.70,309.55L360.70,311.30L362.60,311.30L362.60,312.43L364.50,312.43L364.50,313.57L366.40,313.57L366.40,314.70L368.75,314.70L368.75,315.55L371.10,315.55L371.10,316.40L373.00,316.40L373.00,317.37L374.90,317.37L374.90,318.33L376.80,318.33L376.80,319.30L378.73,319.30L378.73,320.27L380.67,320.27L380.67,321.23L382.60,321.23L382.60,322.20L384.90,322.20L384.90,323.95L387.20,323.95L387.20,325.70L389.13,325.70L389.13,326.27L391.07,326.27L391.07,326.83L393.00,326.83L393.00,327.40L395.25,327.40L395.25,328.55L397.50,328.55L397.50,329.70L399.38,329.70L399.38,330.16L401.26,330.16L401.26,330.62L403.14,330.62L403.14,331.08L405.02,331.08L405.02,331.54L406.90,331.54L406.90,332.00L408.70,332.00L408.70,333.23L410.50,333.23L410.50,334.47L412.30,334.47L412.30,335.70L414.10,335.70L414.10,335.90L415.90,335.90L415.90,336.10L417.70,336.10L417.70,336.30L419.58,336.30L419.58,336.78L421.46,336.78L421.46,337.26L423.34,337.26L423.34,337.74L425.22,337.74L425.22,338.22L427.10,338.22L427.10,338.70L429.33,338.70L429.33,338.85L431.55,338.85L431.55,339.00L433.77,339.00L433.77,339.15L436.00,339.15L436.00,339.30L437.10,339.30L437.10,339.30L437.10,339.30L437.10,345.60L438.97,345.60L438.97,345.68L440.83,345.68L440.83,345.77L442.70,345.77L442.70,345.85L444.57,345.85L444.57,345.93L446.43,345.93L446.43,346.02L448.30,346.02L448.30,346.10L449.30,346.10L449.30,346.10L449.30,346.10L449.30,348.00L456.60,348.00L456.60,348.00L456.60,348.00L456.60,350.20L511.40,350.20L511.40,350.20" stroke="#26427a" stroke-width="1.3"/>
</g>
<line x1="364.50" y1="311.87" x2="364.50" y2="315.27" stroke="#26427a" stroke-width="0.8"/>
<line x1="372.50" y1="314.70" x2="372.50" y2="318.10" stroke="#26427a" stroke-width="0.8"/>
<line x1="381.50" y1="319.53" x2="381.50" y2="322.93" stroke="#26427a" stroke-width="0.8"/>
<line x1="389.50" y1="324.57" x2="389.50" y2="327.97" stroke="#26427a" stroke-width="0.8"/>
<line x1="397.50" y1="328.00" x2="397.50" y2="331.40" stroke="#26427a" stroke-width="0.8"/>
<line x1="405.50" y1="329.84" x2="405.50" y2="333.24" stroke="#26427a" stroke-width="0.8"/>
<line x1="414.50" y1="334.20" x2="414.50" y2="337.60" stroke="#26427a" stroke-width="0.8"/>
<line x1="420.50" y1="335.08" x2="420.50" y2="338.48" stroke="#26427a" stroke-width="0.8"/>
<line x1="425.50" y1="336.52" x2="425.50" y2="339.92" stroke="#26427a" stroke-width="0.8"/>
<line x1="430.50" y1="337.15" x2="430.50" y2="340.55" stroke="#26427a" stroke-width="0.8"/>
<line x1="440.50" y1="343.98" x2="440.50" y2="347.38" stroke="#26427a" stroke-width="0.8"/>
<line x1="442.50" y1="344.07" x2="442.50" y2="347.47" stroke="#26427a" stroke-width="0.8"/>
<line x1="444.50" y1="344.15" x2="444.50" y2="347.55" stroke="#26427a" stroke-width="0.8"/>
<line x1="451.50" y1="346.30" x2="451.50" y2="349.70" stroke="#26427a" stroke-width="0.8"/>
<line x1="460.50" y1="348.50" x2="460.50" y2="351.90" stroke="#26427a" stroke-width="0.8"/>
<line x1="462.50" y1="348.50" x2="462.50" y2="351.90" stroke="#26427a" stroke-width="0.8"/>
<line x1="464.50" y1="348.50" x2="464.50" y2="351.90" stroke="#26427a" stroke-width="0.8"/>
<line x1="466.50" y1="348.50" x2="466.50" y2="351.90" stroke="#26427a" stroke-width="0.8"/>
<line x1="468.50" y1="348.50" x2="468.50" y2="351.90" stroke="#26427a" stroke-width="0.8"/>
<line x1="473.50" y1="348.50" x2="473.50" y2="351.90" stroke="#26427a" stroke-width="0.8"/>
<line x1="476.50" y1="348.50" x2="476.50" y2="351.90" stroke="#26427a" stroke-width="0.8"/>
<line x1="489.50" y1="348.50" x2="489.50" y2="351.90" stroke="#26427a" stroke-width="0.8"/>
<line x1="509.50" y1="348.50" x2="509.50" y2="351.90" stroke="#26427a" stroke-width="0.8"/>
<line x1="460.30" y1="370.30" x2="460.30" y2="373.70" stroke="#ecc230" stroke-width="0.8"/>
<text x="340.90" y="375.20" font-size="7.2" fill="#333"><tspan font-style="italic">P</tspan> = .03</text>
<text x="340.90" y="385.60" font-size="7.2" textLength="88.9" lengthAdjust="spacingAndGlyphs">HR: 1.68, 95% CI: 1.05–2.7</text>
<text x="323.30" y="438.65" font-size="7" textLength="104.7" lengthAdjust="spacingAndGlyphs">Number at risk (number of events)</text>
<line x1="323.40" y1="443.95" x2="323.40" y2="465.65" stroke="#222" stroke-width="1.4"/>
<line x1="322.70" y1="464.95" x2="510.80" y2="464.95" stroke="#222" stroke-width="1.4"/>
<line x1="335.10" y1="464.95" x2="335.10" y2="468.15" stroke="#222" stroke-width="0.9"/>
<text x="335.10" y="478.35" font-size="7" text-anchor="middle" fill="#3d3d3d" stroke="#3d3d3d" stroke-width="0.18">0</text>
<text x="336.30" y="451.35" font-size="7.4" text-anchor="middle">180 (0)</text>
<text x="336.30" y="460.95" font-size="7.4" text-anchor="middle">36 (0)</text>
<line x1="362.58" y1="464.95" x2="362.58" y2="468.15" stroke="#222" stroke-width="0.9"/>
<text x="362.58" y="478.35" font-size="7" text-anchor="middle" fill="#3d3d3d" stroke="#3d3d3d" stroke-width="0.18">24</text>
<text x="363.78" y="451.35" font-size="7.4" text-anchor="middle">124 (39)</text>
<text x="363.78" y="460.95" font-size="7.4" text-anchor="middle">24 (11)</text>
<line x1="390.06" y1="464.95" x2="390.06" y2="468.15" stroke="#222" stroke-width="0.9"/>
<text x="390.06" y="478.35" font-size="7" text-anchor="middle" fill="#3d3d3d" stroke="#3d3d3d" stroke-width="0.18">48</text>
<text x="391.26" y="451.35" font-size="7.4" text-anchor="middle">84 (59)</text>
<text x="391.26" y="460.95" font-size="7.4" text-anchor="middle">12 (19)</text>
<line x1="417.54" y1="464.95" x2="417.54" y2="468.15" stroke="#222" stroke-width="0.9"/>
<text x="417.54" y="478.35" font-size="7" text-anchor="middle" fill="#3d3d3d" stroke="#3d3d3d" stroke-width="0.18">72</text>
<text x="418.74" y="451.35" font-size="7.4" text-anchor="middle">51 (70)</text>
<text x="418.74" y="460.95" font-size="7.4" text-anchor="middle">6 (20)</text>
<line x1="445.02" y1="464.95" x2="445.02" y2="468.15" stroke="#222" stroke-width="0.9"/>
<text x="445.02" y="478.35" font-size="7" text-anchor="middle" fill="#3d3d3d" stroke="#3d3d3d" stroke-width="0.18">96</text>
<text x="446.22" y="451.35" font-size="7.4" text-anchor="middle">24 (76)</text>
<text x="446.22" y="460.95" font-size="7.4" text-anchor="middle">2 (22)</text>
<line x1="472.50" y1="464.95" x2="472.50" y2="468.15" stroke="#222" stroke-width="0.9"/>
<text x="472.50" y="478.35" font-size="7" text-anchor="middle" fill="#3d3d3d" stroke="#3d3d3d" stroke-width="0.18">120</text>
<text x="473.70" y="451.35" font-size="7.4" text-anchor="middle">8 (78)</text>
<text x="473.70" y="460.95" font-size="7.4" text-anchor="middle">1 (22)</text>
<line x1="499.98" y1="464.95" x2="499.98" y2="468.15" stroke="#222" stroke-width="0.9"/>
<text x="499.98" y="478.35" font-size="7" text-anchor="middle" fill="#3d3d3d" stroke="#3d3d3d" stroke-width="0.18">144</text>
<text x="501.18" y="451.35" font-size="7.4" text-anchor="middle">5 (78)</text>
<text x="501.18" y="460.95" font-size="7.4" text-anchor="middle">1 (22)</text>
<text x="418.80" y="491.75" font-size="10.3" text-anchor="middle" fill="#111" textLength="21.2" lengthAdjust="spacingAndGlyphs" font-weight="bold">Months</text>
<text x="0" y="0" font-size="9" font-weight="bold" text-anchor="middle" fill="#111" textLength="16.9" lengthAdjust="spacingAndGlyphs" transform="translate(304.10,454.15) rotate(-90)">Strata</text>
<line x1="310.30" y1="449.45" x2="319.90" y2="449.45" stroke="#26427a" stroke-width="1.0"/>
<line x1="310.30" y1="458.95" x2="319.90" y2="458.95" stroke="#ecc230" stroke-width="1.0"/>
<text x="7.90" y="517.90" font-size="13.5" fill="#000" textLength="7.8" lengthAdjust="spacingAndGlyphs" font-weight="bold" stroke="#000" stroke-width="0.35">E</text>
<text x="217.90" y="517.70" font-size="9.1" fill="#222" textLength="49.4" lengthAdjust="spacingAndGlyphs">Hazard ratio</text>
<rect x="51.2" y="532.9" width="385.5" height="40.4" fill="#e6e4e7"/>
<rect x="51.2" y="614.5" width="385.5" height="40.4" fill="#e6e4e7"/>
<rect x="51.2" y="696.0" width="385.5" height="40.4" fill="#e6e4e7"/>
<line x1="258.8" y1="524" x2="258.8" y2="745.5" stroke="#8a8a8a" stroke-width="1.1" stroke-dasharray="1.4 1.6"/>
<text x="59.70" y="551.10" font-size="7.15" fill="#222">MAP</text>
<text x="59.70" y="559.60" font-size="7.15" fill="#222">Signature</text>
<text x="201.20" y="551.40" font-size="7.2" text-anchor="middle" fill="#222">1.9</text>
<text x="201.20" y="560.10" font-size="7.2" text-anchor="middle" fill="#222" textLength="35.3" lengthAdjust="spacingAndGlyphs">(1.12 - 3.2)</text>
<line x1="273.00" y1="553.40" x2="409.80" y2="553.40" stroke="#222" stroke-width="1.0"/>
<line x1="273.00" y1="550.20" x2="273.00" y2="556.60" stroke="#222" stroke-width="1.0"/>
<line x1="409.80" y1="550.20" x2="409.80" y2="556.60" stroke="#222" stroke-width="1.0"/>
<rect x="337.70" y="549.80" width="7.2" height="7.2" fill="#c8102e"/>
<text x="411.80" y="556.00" font-size="7.5" fill="#222">0.018*</text>
<text x="59.70" y="591.50" font-size="7.15" fill="#222">FLIPI</text>
<text x="59.70" y="600.00" font-size="7.15" fill="#222">Group</text>
<text x="137.30" y="596.20" font-size="7.2" text-anchor="middle" fill="#222">low</text>
<text x="200.90" y="596.20" font-size="7.2" text-anchor="middle" fill="#222">reference</text>
<rect x="255.20" y="590.20" width="7.2" height="7.2" fill="#c8102e"/>
<text x="137.30" y="636.90" font-size="7.2" text-anchor="middle" fill="#222">int</text>
<text x="201.20" y="632.50" font-size="7.2" text-anchor="middle" fill="#222">1.5</text>
<text x="201.20" y="641.20" font-size="7.2" text-anchor="middle" fill="#222" textLength="35.3" lengthAdjust="spacingAndGlyphs">(0.86 - 2.5)</text>
<line x1="240.00" y1="634.50" x2="376.30" y2="634.50" stroke="#222" stroke-width="1.0"/>
<line x1="240.00" y1="631.30" x2="240.00" y2="637.70" stroke="#222" stroke-width="1.0"/>
<line x1="376.30" y1="631.30" x2="376.30" y2="637.70" stroke="#222" stroke-width="1.0"/>
<rect x="304.50" y="630.90" width="7.2" height="7.2" fill="#c8102e"/>
<text x="411.80" y="637.10" font-size="7.5" fill="#222">0.158</text>
<text x="137.30" y="678.20" font-size="7.2" text-anchor="middle" fill="#222">high</text>
<text x="201.20" y="673.80" font-size="7.2" text-anchor="middle" fill="#222">1.8</text>
<text x="201.20" y="682.50" font-size="7.2" text-anchor="middle" fill="#222" textLength="35.3" lengthAdjust="spacingAndGlyphs">(1.03 - 3.0)</text>
<line x1="262.90" y1="675.80" x2="402.70" y2="675.80" stroke="#222" stroke-width="1.0"/>
<line x1="262.90" y1="672.60" x2="262.90" y2="679.00" stroke="#222" stroke-width="1.0"/>
<line x1="402.70" y1="672.60" x2="402.70" y2="679.00" stroke="#222" stroke-width="1.0"/>
<rect x="329.30" y="672.20" width="7.2" height="7.2" fill="#c8102e"/>
<text x="411.80" y="678.40" font-size="7.5" fill="#222">0.039*</text>
<text x="59.70" y="714.00" font-size="7.15" fill="#222">ECOG</text>
<text x="59.70" y="722.50" font-size="7.15" fill="#222">PS</text>
<text x="201.20" y="714.30" font-size="7.2" text-anchor="middle" fill="#222">1.2</text>
<text x="201.20" y="723.00" font-size="7.2" text-anchor="middle" fill="#222" textLength="35.3" lengthAdjust="spacingAndGlyphs">(0.80 - 1.9)</text>
<line x1="230.50" y1="716.30" x2="341.80" y2="716.30" stroke="#222" stroke-width="1.0"/>
<line x1="230.50" y1="713.10" x2="230.50" y2="719.50" stroke="#222" stroke-width="1.0"/>
<line x1="341.80" y1="713.10" x2="341.80" y2="719.50" stroke="#222" stroke-width="1.0"/>
<rect x="282.20" y="712.70" width="7.2" height="7.2" fill="#c8102e"/>
<text x="411.80" y="718.90" font-size="7.5" fill="#222">0.342</text>
<line x1="256.30" y1="746.30" x2="425.30" y2="746.30" stroke="#222" stroke-width="1.0"/>
<line x1="258.80" y1="746.30" x2="258.80" y2="749.10" stroke="#222" stroke-width="0.9"/>
<text x="258.80" y="760.00" font-size="6.6" text-anchor="middle" fill="#222">1</text>
<line x1="311.51" y1="746.30" x2="311.51" y2="749.10" stroke="#222" stroke-width="0.9"/>
<text x="311.51" y="760.00" font-size="6.6" text-anchor="middle" fill="#222">1.5</text>
<line x1="348.91" y1="746.30" x2="348.91" y2="749.10" stroke="#222" stroke-width="0.9"/>
<text x="348.91" y="760.00" font-size="6.6" text-anchor="middle" fill="#222">2</text>
<line x1="377.92" y1="746.30" x2="377.92" y2="749.10" stroke="#222" stroke-width="0.9"/>
<text x="377.92" y="760.00" font-size="6.6" text-anchor="middle" fill="#222">2.5</text>
<line x1="401.62" y1="746.30" x2="401.62" y2="749.10" stroke="#222" stroke-width="0.9"/>
<text x="401.62" y="760.00" font-size="6.6" text-anchor="middle" fill="#222">3</text>
<line x1="421.66" y1="746.30" x2="421.66" y2="749.10" stroke="#222" stroke-width="0.9"/>
<text x="421.66" y="760.00" font-size="6.6" text-anchor="middle" fill="#222">3.5</text>
<text x="60.30" y="745.80" font-size="6.8" fill="#222" textLength="168.5" lengthAdjust="spacingAndGlyphs" font-style="italic"># Events: 86; Global P−value (Log−Rank): 0.030623</text>
<text x="60.30" y="754.20" font-size="6.8" fill="#222" textLength="123.4" lengthAdjust="spacingAndGlyphs" font-style="italic">AIC: 794.58; Concordance Index: 0.63</text>
<rect x="0.5" y="0.5" width="519" height="767" fill="none" stroke="#4f4f4f" stroke-width="1"/>
</svg></body></html>
